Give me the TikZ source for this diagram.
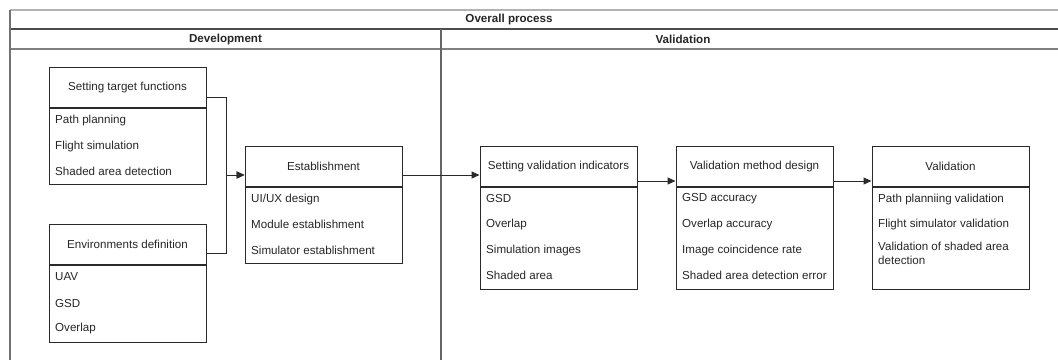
\documentclass[tikz,border=0pt]{standalone}
\usepackage{fontspec}
\setmainfont{Liberation Sans}
\usetikzlibrary{arrows.meta,calc}
\definecolor{txt}{HTML}{262626}
\definecolor{boxline}{HTML}{2a2a2a}
\tikzset{
  box/.style={draw=boxline,line width=1pt,minimum width=157pt,inner sep=0pt,text=txt,font=\fontsize{11.6}{13}\selectfont},
  hdr/.style={box,minimum height=40pt},
  item/.style={anchor=west,inner sep=0pt,text=txt,font=\fontsize{11.6}{14}\selectfont,align=left},
  lane/.style={inner sep=0pt,text=txt,font=\fontsize{11.6}{13}\selectfont\bfseries},
  conn/.style={draw=boxline,line width=1pt},
  arr/.style={conn,-{Triangle[length=8pt,width=7pt]}}
}
\begin{document}
\begin{tikzpicture}[x=1pt,y=-1pt]
\useasboundingbox (0,0) rectangle (1058,360);
% frame
\draw[line width=1.1pt,draw=black!30] (10,10) -- (1058,10);
\draw[line width=1.1pt,draw=black!70] (10,29) -- (1058,29);
\draw[line width=1.1pt,draw=black!50] (10,49) -- (1058,49);
\draw[line width=1.1pt,draw=black!55] (10,10) -- (10,360);
\draw[line width=1.1pt,draw=black!60] (441,29) -- (441,360);
\node[lane] (overall) at (509,19.5) {Overall process};
\node[lane] (dev) at (225.5,39) {Development};
\node[lane] (val) at (683,39) {Validation};

% Setting target functions
\node[hdr] (stf) at (127.5,87.5) {Setting target functions};
\node[box,minimum height=76pt,anchor=north] (stfb) at (stf.south) {};
\node[item] (stf1) at (55,120) {Path planning};
\node[item] (stf2) at (55,146) {Flight simulation};
\node[item] (stf3) at (55,171) {Shaded area detection};

% Environments definition
\node[hdr] (env) at (127.5,244) {Environments definition};
\node[box,minimum height=77pt,anchor=north] (envb) at (env.south) {};
\node[item] (env1) at (55,277) {UAV};
\node[item] (env2) at (55,303) {GSD};
\node[item] (env3) at (55,328) {Overlap};

% Establishment
\node[hdr] (est) at (323.5,166) {Establishment};
\node[box,minimum height=76pt,anchor=north] (estb) at (est.south) {};
\node[item] (est1) at (251,199) {UI/UX design};
\node[item] (est2) at (251,224) {Module establishment};
\node[item] (est3) at (251,250) {Simulator establishment};

% Setting validation indicators
\node[hdr] (svi) at (558.5,166) {Setting validation indicators};
\node[box,minimum height=102pt,anchor=north] (svib) at (svi.south) {};
\node[item] (svi1) at (486,199) {GSD};
\node[item] (svi2) at (486,224) {Overlap};
\node[item] (svi3) at (486,250) {Simulation images};
\node[item] (svi4) at (486,275) {Shaded area};

% Validation method design
\node[hdr] (vmd) at (754.5,166) {Validation method design};
\node[box,minimum height=102pt,anchor=north] (vmdb) at (vmd.south) {};
\node[item] (vmd1) at (682,199) {GSD accuracy};
\node[item] (vmd2) at (682,224) {Overlap accuracy};
\node[item] (vmd3) at (682,250) {Image coincidence rate};
\node[item] (vmd4) at (682,275) {Shaded area detection error};

% Validation
\node[hdr] (vbox) at (950.5,166) {Validation};
\node[box,minimum height=102pt,anchor=north] (vboxb) at (vbox.south) {};
\node[item] (v1) at (878,199) {Path planniing validation};
\node[item] (v2) at (878,224) {Flight simulator validation};
\node[item,anchor=north west] (v3) at (878,242) {Validation of shaded area\\detection};

% connectors
\draw[arr] ([yshift=-9.5pt]stf.east) -- ++(20,0) |- ([yshift=-9pt]est.west);
\draw[arr] ([yshift=-9pt]env.east) -- ++(20,0) |- ([yshift=-9pt]est.west);
\draw[arr] ([yshift=-9pt]est.east) -- ([yshift=-9pt]svi.west);
\draw[arr] ([yshift=-15pt]svi.east) -- ([yshift=-15pt]vmd.west);
\draw[arr] ([yshift=-15pt]vmd.east) -- ([yshift=-15pt]vbox.west);
\end{tikzpicture}
\end{document}
